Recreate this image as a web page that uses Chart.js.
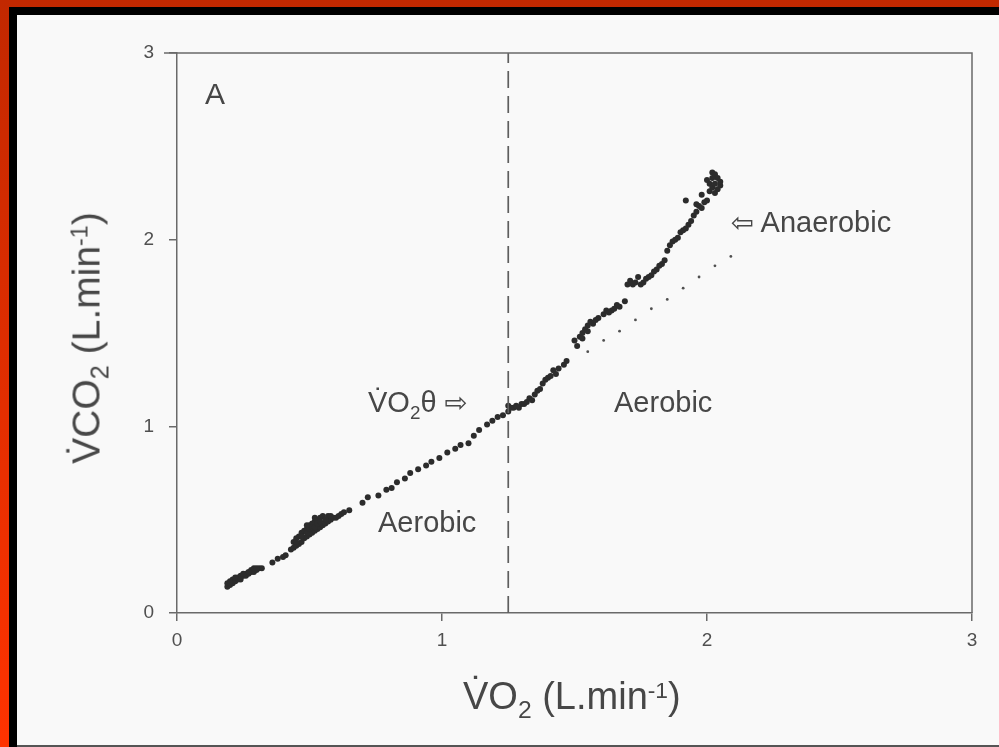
<!DOCTYPE html>
<html>
<head>
<meta charset="utf-8">
<script src="https://cdn.jsdelivr.net/npm/chart.js@4.4.0/dist/chart.umd.min.js"></script>
<style>
  html, body { margin: 0; padding: 0; }
  body {
    width: 999px; height: 747px; overflow: hidden; position: relative;
    background: linear-gradient(to bottom, #c22800, #ff3300);
    font-family: "Liberation Sans", Arial, sans-serif;
  }
  #black { position: absolute; left: 9px; top: 7px; width: 990px; height: 740px; background: #000; }
  #paper { position: absolute; left: 17px; top: 15px; width: 982px; height: 730px; background: #f9f9f9; }
  #bottomLine { position: absolute; left: 17px; top: 745px; width: 982px; height: 2px; background: #555; }
  #chart { position: absolute; left: 0; top: 0; }
  .lbl { position: absolute; color: #474747; line-height: 1; white-space: nowrap; }
  .sub { position: relative; top: 0.37em; font-size: 0.65em; }
  .sup { position: relative; top: -0.5em; font-size: 0.6em; }
  .arrow { font-family: "DejaVu Sans", sans-serif; font-size: 0.95em; }
</style>
</head>
<body>
<div id="black"></div>
<div id="paper"></div>
<div id="bottomLine"></div>
<canvas id="chart" width="999" height="747"></canvas>

<div class="lbl" style="left:205px; top:79px; font-size:30px;">A</div>
<div class="lbl" style="left:368px; top:388px; font-size:29px;">V&#775;O<span class="sub">2</span>θ <span class="arrow">⇨</span></div>
<div class="lbl" style="left:614px; top:388px; font-size:29px;">Aerobic</div>
<div class="lbl" style="left:378px; top:508px; font-size:29px;">Aerobic</div>
<div class="lbl" style="left:731px; top:208px; font-size:29px;"><span class="arrow">⇦</span> Anaerobic</div>
<div class="lbl" style="left:463px; top:677px; font-size:38px;">V&#775;O<span class="sub">2</span> (L.min<span class="sup">-1</span>)</div>
<div class="lbl" style="left:86px; top:338px; font-size:39px; transform: translate(-50%, -50%) rotate(-90deg);">V&#775;CO<span class="sub">2</span> (L.min<span class="sup">-1</span>)</div>

<script>
// breath-by-breath data, L/min
const aerobicVO2 = [
  0.19, 0.19, 0.20, 0.20, 0.21, 0.21, 0.22, 0.22, 0.23, 0.23, 0.24, 0.24, 0.25, 0.26, 0.26, 0.27, 0.28, 0.28, 0.29, 0.30, 0.31, 0.32,
  0.20, 0.22, 0.24, 0.25, 0.27, 0.29, 0.30,
  0.36, 0.38, 0.40, 0.41, 0.43,
  0.44, 0.44, 0.45, 0.45, 0.46, 0.46, 0.47, 0.47, 0.48, 0.48, 0.49, 0.49, 0.50, 0.50, 0.51, 0.51, 0.52, 0.52, 0.53, 0.53, 0.54, 0.54,
  0.55, 0.55, 0.56, 0.57, 0.57, 0.58, 0.59, 0.60, 0.61, 0.62, 0.63, 0.65,
  0.45, 0.47, 0.49, 0.50, 0.51, 0.52, 0.53, 0.54, 0.56, 0.58, 0.49, 0.52,
  0.70, 0.72, 0.76, 0.79, 0.81, 0.83, 0.86, 0.88, 0.91, 0.94, 0.96, 0.99, 1.02, 1.05, 1.07, 1.10,
  1.12, 1.14, 1.17, 1.19, 1.21, 1.23, 1.25, 1.25, 1.26
];
const aerobicVCO2 = [
  0.14, 0.16, 0.15, 0.17, 0.16, 0.18, 0.17, 0.18, 0.18, 0.19, 0.19, 0.20, 0.20, 0.20, 0.21, 0.21, 0.22, 0.23, 0.22, 0.23, 0.24, 0.24,
  0.16, 0.19, 0.18, 0.21, 0.22, 0.24, 0.24,
  0.27, 0.29, 0.30, 0.31, 0.34,
  0.35, 0.38, 0.36, 0.40, 0.37, 0.41, 0.38, 0.43, 0.40, 0.44, 0.41, 0.45, 0.42, 0.47, 0.43, 0.48, 0.44, 0.49, 0.45, 0.50, 0.46, 0.51,
  0.47, 0.52, 0.48, 0.49, 0.52, 0.50, 0.51, 0.51, 0.52, 0.53, 0.54, 0.55,
  0.38, 0.41, 0.43, 0.45, 0.46, 0.46, 0.48, 0.49, 0.50, 0.52, 0.47, 0.51,
  0.59, 0.62, 0.63, 0.66, 0.67, 0.70, 0.72, 0.75, 0.77, 0.79, 0.81, 0.83, 0.86, 0.88, 0.90, 0.91,
  0.95, 0.98, 1.01, 1.03, 1.05, 1.06, 1.08, 1.11, 1.10
];
const anaerobicVO2 = [
  1.27, 1.29, 1.30, 1.31, 1.33, 1.34, 1.36, 1.38, 1.39, 1.40, 1.42, 1.43, 1.46, 1.47, 1.50, 1.51, 1.52, 1.53, 1.54, 1.55,
  1.56, 1.57, 1.59, 1.61, 1.62, 1.64, 1.66, 1.67, 1.69, 1.71, 1.72, 1.74, 1.75, 1.76, 1.77, 1.79, 1.80, 1.81, 1.83, 1.84,
  1.85, 1.86, 1.87, 1.89, 1.90, 1.91, 1.92, 1.93, 1.94, 1.95, 1.96, 1.97, 1.98, 1.99, 2.00, 2.00, 2.01, 2.01, 2.02, 2.02,
  2.03, 2.03, 2.03, 2.04, 2.05,
  1.28, 1.32, 1.35, 1.37, 1.41, 1.44, 1.53, 1.55, 1.58, 1.63, 1.65, 1.70, 1.73, 1.78, 1.82, 1.88, 1.92, 1.96, 1.98, 2.02,
  2.04, 2.05
];
const anaerobicVCO2 = [
  1.10, 1.10, 1.12, 1.12, 1.15, 1.14, 1.19, 1.23, 1.25, 1.26, 1.30, 1.28, 1.33, 1.35, 1.46, 1.43, 1.48, 1.50, 1.52, 1.54,
  1.56, 1.55, 1.58, 1.60, 1.62, 1.62, 1.65, 1.64, 1.67, 1.78, 1.76, 1.80, 1.76, 1.77, 1.79, 1.81, 1.83, 1.84, 1.87, 1.89,
  1.94, 1.97, 1.99, 2.01, 2.04, 2.05, 2.21, 2.08, 2.10, 2.13, 2.15, 2.18, 2.24, 2.20, 2.21, 2.32, 2.26, 2.30, 2.28, 2.36,
  2.25, 2.30, 2.35, 2.33, 2.29,
  1.11, 1.13, 1.17, 1.20, 1.27, 1.31, 1.47, 1.51, 1.57, 1.61, 1.63, 1.76, 1.77, 1.80, 1.86, 2.00, 2.06, 2.19, 2.17, 2.33,
  2.27, 2.31
];
// dotted continuation of the aerobic slope
const extrapVO2 = [1.55, 1.61, 1.67, 1.73, 1.79, 1.85, 1.91, 1.97, 2.03, 2.09];
const extrapVCO2 = [1.40, 1.46, 1.51, 1.57, 1.63, 1.68, 1.74, 1.80, 1.86, 1.91];
// ventilatory threshold
const thresholdVO2 = 1.25;
const axisMin = 0;
const axisMax = 3;
const tickValues = [0, 1, 2, 3];

const toPoints = (xs, ys) => xs.map((x, i) => ({ x: x, y: ys[i] }));

const axisGray = '#6a6a6a';
const textGray = '#505050';

// top and right frame lines of the plot box
const boxPlugin = {
  id: 'box',
  afterDatasetsDraw(chart) {
    const a = chart.chartArea;
    const ctx = chart.ctx;
    ctx.save();
    ctx.strokeStyle = axisGray;
    ctx.lineWidth = 1.5;
    ctx.beginPath();
    ctx.moveTo(a.left - 13, a.top);
    ctx.lineTo(a.right, a.top);
    ctx.lineTo(a.right, a.bottom);
    ctx.stroke();
    ctx.restore();
  }
};

new Chart(document.getElementById('chart').getContext('2d'), {
  type: 'scatter',
  data: {
    datasets: [
      {
        label: 'threshold',
        type: 'line',
        data: [{ x: thresholdVO2, y: axisMin }, { x: thresholdVO2, y: axisMax }],
        borderColor: '#5e5e5e',
        borderWidth: 1.7,
        borderDash: [17, 8],
        pointRadius: 0,
        showLine: true
      },
      {
        label: 'extrapolated',
        data: toPoints(extrapVO2, extrapVCO2),
        pointRadius: 1.4,
        pointBackgroundColor: '#505050',
        pointBorderWidth: 0
      },
      {
        label: 'aerobic',
        data: toPoints(aerobicVO2, aerobicVCO2),
        pointRadius: 3,
        pointBackgroundColor: '#2c2c2c',
        pointBorderWidth: 0
      },
      {
        label: 'anaerobic',
        data: toPoints(anaerobicVO2, anaerobicVCO2),
        pointRadius: 3,
        pointBackgroundColor: '#2c2c2c',
        pointBorderWidth: 0
      }
    ]
  },
  options: {
    responsive: false,
    animation: false,
    layout: { padding: { left: 0, top: 53, right: 27, bottom: 0 } },
    plugins: {
      legend: { display: false },
      tooltip: { enabled: false }
    },
    scales: {
      x: {
        type: 'linear',
        min: axisMin,
        max: axisMax,
        afterBuildTicks: (scale) => { scale.ticks = tickValues.map(v => ({ value: v })); },
        afterFit: (scale) => { scale.height = 134; },
        border: { color: axisGray, width: 1.5 },
        grid: { drawOnChartArea: false, drawTicks: true, tickLength: 8, color: axisGray, lineWidth: 1.5 },
        ticks: { color: textGray, padding: 8, font: { family: 'Liberation Sans', size: 19 } }
      },
      y: {
        type: 'linear',
        min: axisMin,
        max: axisMax,
        afterBuildTicks: (scale) => { scale.ticks = tickValues.map(v => ({ value: v })); },
        afterFit: (scale) => { scale.width = 177; },
        border: { color: axisGray, width: 1.5 },
        grid: { drawOnChartArea: false, drawTicks: true, tickLength: 8, color: axisGray, lineWidth: 1.5 },
        ticks: { color: textGray, padding: 15, font: { family: 'Liberation Sans', size: 19 } }
      }
    }
  },
  plugins: [boxPlugin]
});
</script>
</body>
</html>
